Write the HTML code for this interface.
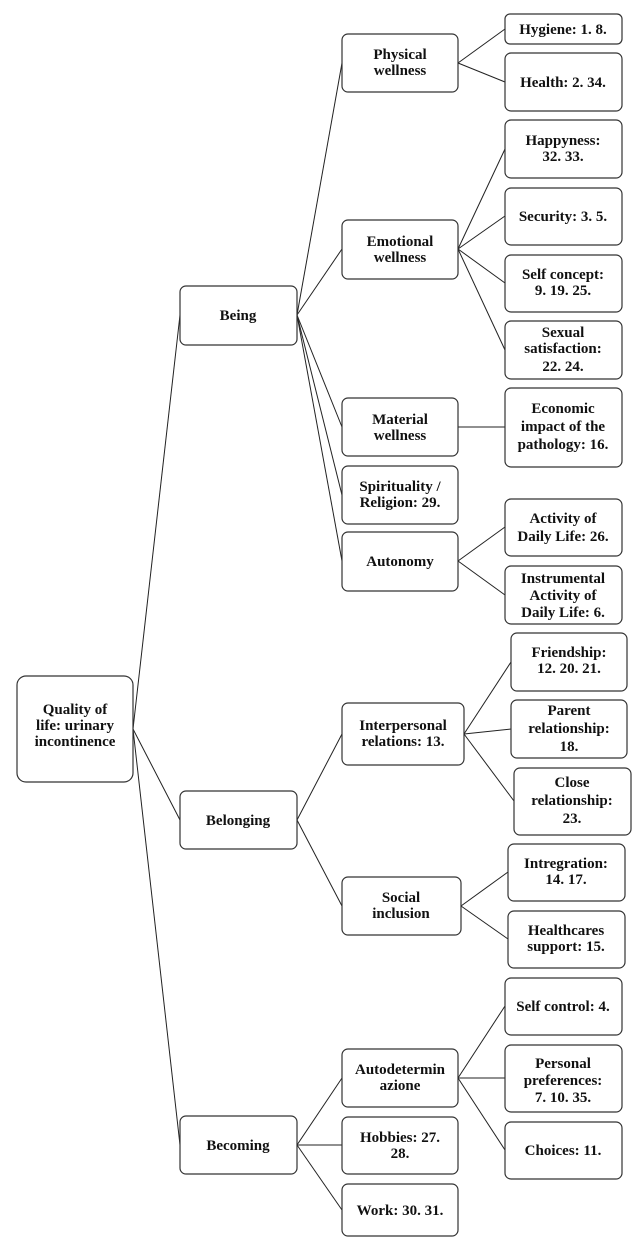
<!DOCTYPE html>
<html><head><meta charset="utf-8"><style>
html,body{margin:0;padding:0;background:#fff}
svg text{font-family:"Liberation Serif",serif;font-weight:bold;font-size:15px;fill:#111;text-anchor:middle}
rect{fill:#fff;stroke:#333;stroke-width:1.2}
line{stroke:#222;stroke-width:1}
</style></head><body>
<svg width="642" height="1252" viewBox="0 0 642 1252" xmlns="http://www.w3.org/2000/svg">
<!-- connectors -->
<g>
<line x1="133" y1="729" x2="180" y2="315"/>
<line x1="133" y1="729" x2="180" y2="820"/>
<line x1="133" y1="729" x2="180" y2="1145"/>
<line x1="297" y1="315" x2="342" y2="63"/>
<line x1="297" y1="315" x2="342" y2="249"/>
<line x1="297" y1="315" x2="342" y2="427"/>
<line x1="297" y1="315" x2="342" y2="495"/>
<line x1="297" y1="315" x2="342" y2="561"/>
<line x1="458" y1="63" x2="505" y2="29"/>
<line x1="458" y1="63" x2="505" y2="82"/>
<line x1="458" y1="249" x2="505" y2="149"/>
<line x1="458" y1="249" x2="505" y2="216"/>
<line x1="458" y1="249" x2="505" y2="283"/>
<line x1="458" y1="249" x2="505" y2="350"/>
<line x1="458" y1="427" x2="505" y2="427"/>
<line x1="458" y1="561" x2="505" y2="527"/>
<line x1="458" y1="561" x2="505" y2="595"/>
<line x1="297" y1="820" x2="342" y2="734"/>
<line x1="297" y1="820" x2="342" y2="906"/>
<line x1="464" y1="734" x2="511" y2="662"/>
<line x1="464" y1="734" x2="511" y2="729"/>
<line x1="464" y1="734" x2="514" y2="801"/>
<line x1="461" y1="906" x2="508" y2="872"/>
<line x1="461" y1="906" x2="508" y2="939"/>
<line x1="297" y1="1145" x2="342" y2="1078"/>
<line x1="297" y1="1145" x2="342" y2="1145"/>
<line x1="297" y1="1145" x2="342" y2="1210"/>
<line x1="458" y1="1078" x2="505" y2="1006"/>
<line x1="458" y1="1078" x2="505" y2="1078"/>
<line x1="458" y1="1078" x2="505" y2="1150"/>
</g>
<!-- boxes -->
<g>
<rect x="17" y="676" width="116" height="106" rx="9"/>
<text x="75" y="714">Quality of</text><text x="75" y="730">life: urinary</text><text x="75" y="746">incontinence</text>

<rect x="180" y="286" width="117" height="59" rx="6"/><text x="238" y="320">Being</text>
<rect x="180" y="791" width="117" height="58" rx="6"/><text x="238" y="825">Belonging</text>
<rect x="180" y="1116" width="117" height="58" rx="6"/><text x="238" y="1150">Becoming</text>

<rect x="342" y="34" width="116" height="58" rx="6"/><text x="400" y="59">Physical</text><text x="400" y="75">wellness</text>
<rect x="342" y="220" width="116" height="59" rx="6"/><text x="400" y="246">Emotional</text><text x="400" y="262">wellness</text>
<rect x="342" y="398" width="116" height="58" rx="6"/><text x="400" y="424">Material</text><text x="400" y="440">wellness</text>
<rect x="342" y="466" width="116" height="58" rx="6"/><text x="400" y="491">Spirituality /</text><text x="400" y="507">Religion: 29.</text>
<rect x="342" y="532" width="116" height="59" rx="6"/><text x="400" y="566">Autonomy</text>

<rect x="505" y="14" width="117" height="30" rx="5"/><text x="563" y="34">Hygiene: 1. 8.</text>
<rect x="505" y="53" width="117" height="58" rx="6"/><text x="563" y="87">Health: 2. 34.</text>
<rect x="505" y="120" width="117" height="58" rx="6"/><text x="563" y="145">Happyness:</text><text x="563" y="161">32. 33.</text>
<rect x="505" y="188" width="117" height="57" rx="6"/><text x="563" y="221">Security: 3. 5.</text>
<rect x="505" y="255" width="117" height="57" rx="6"/><text x="563" y="279">Self concept:</text><text x="563" y="295">9. 19. 25.</text>
<rect x="505" y="321" width="117" height="58" rx="6"/><text x="563" y="337">Sexual</text><text x="563" y="353">satisfaction:</text><text x="563" y="371">22. 24.</text>
<rect x="505" y="388" width="117" height="79" rx="6"/><text x="563" y="413">Economic</text><text x="563" y="431">impact of the</text><text x="563" y="449">pathology: 16.</text>
<rect x="505" y="499" width="117" height="57" rx="6"/><text x="563" y="523">Activity of</text><text x="563" y="541">Daily Life: 26.</text>
<rect x="505" y="566" width="117" height="58" rx="6"/><text x="563" y="583">Instrumental</text><text x="563" y="600">Activity of</text><text x="563" y="617">Daily Life: 6.</text>

<rect x="342" y="703" width="122" height="62" rx="6"/><text x="403" y="730">Interpersonal</text><text x="403" y="746">relations: 13.</text>
<rect x="342" y="877" width="119" height="58" rx="6"/><text x="401" y="902">Social</text><text x="401" y="918">inclusion</text>

<rect x="511" y="633" width="116" height="58" rx="6"/><text x="569" y="657">Friendship:</text><text x="569" y="673">12. 20. 21.</text>
<rect x="511" y="700" width="116" height="58" rx="6"/><text x="569" y="715">Parent</text><text x="569" y="733">relationship:</text><text x="569" y="751">18.</text>
<rect x="514" y="768" width="117" height="67" rx="6"/><text x="572" y="787">Close</text><text x="572" y="805">relationship:</text><text x="572" y="823">23.</text>
<rect x="508" y="844" width="117" height="57" rx="6"/><text x="566" y="868">Intregration:</text><text x="566" y="884">14. 17.</text>
<rect x="508" y="911" width="117" height="57" rx="6"/><text x="566" y="935">Healthcares</text><text x="566" y="951">support: 15.</text>

<rect x="342" y="1049" width="116" height="58" rx="6"/><text x="400" y="1074">Autodetermin</text><text x="400" y="1090">azione</text>
<rect x="342" y="1117" width="116" height="57" rx="6"/><text x="400" y="1142">Hobbies: 27.</text><text x="400" y="1158">28.</text>
<rect x="342" y="1184" width="116" height="52" rx="6"/><text x="400" y="1215">Work: 30. 31.</text>

<rect x="505" y="978" width="117" height="57" rx="6"/><text x="563" y="1011">Self control: 4.</text>
<rect x="505" y="1045" width="117" height="67" rx="6"/><text x="563" y="1068">Personal</text><text x="563" y="1085">preferences:</text><text x="563" y="1102">7. 10. 35.</text>
<rect x="505" y="1122" width="117" height="57" rx="6"/><text x="563" y="1155">Choices: 11.</text>
</g>
</svg>
</body></html>
